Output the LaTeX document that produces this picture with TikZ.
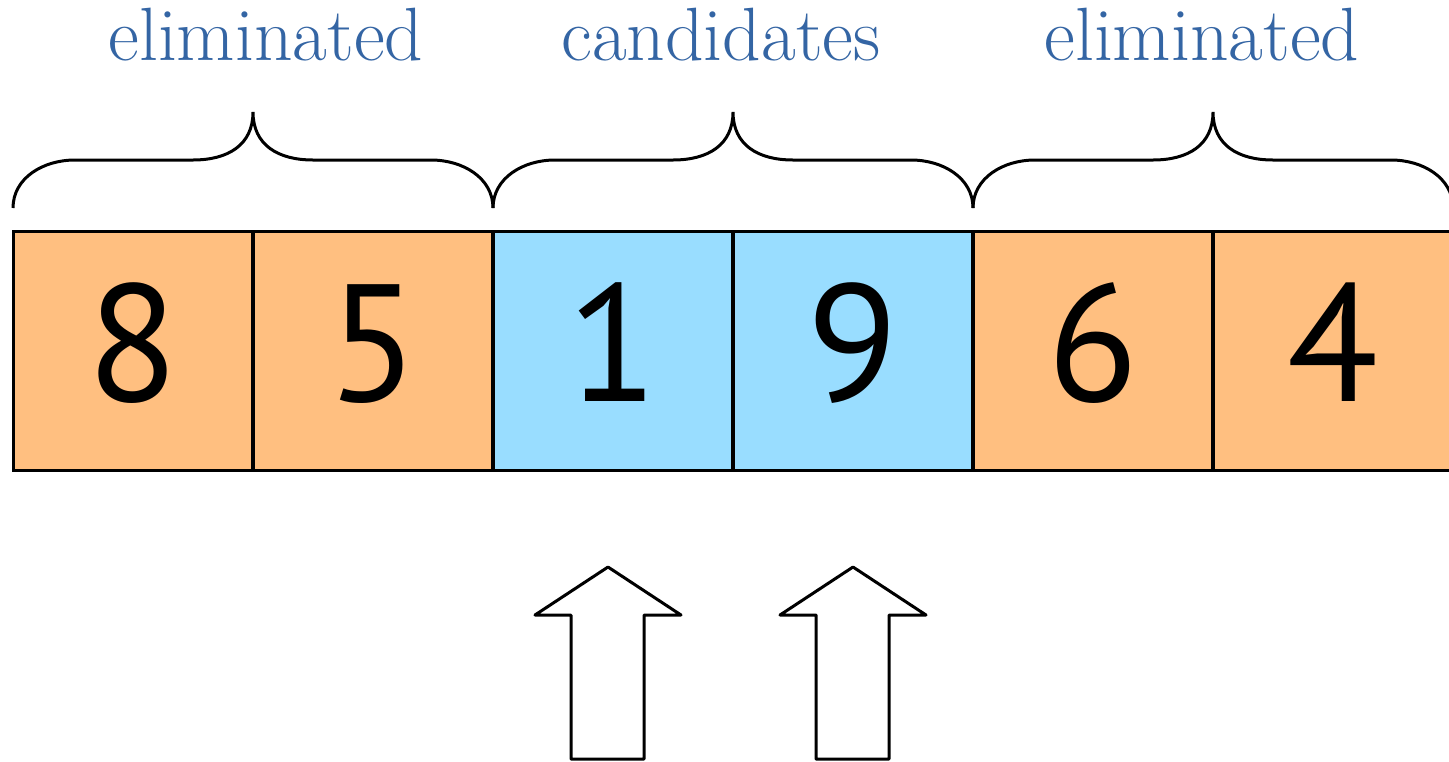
\documentclass[tikz,border=0pt]{standalone}
\usepackage{fontspec}
\newfontfamily\digitfont{PT Sans}
\definecolor{elimfill}{RGB}{255,191,128}
\definecolor{candfill}{RGB}{153,221,255}
\definecolor{labelblue}{RGB}{52,101,164}
\begin{document}
\begin{tikzpicture}[x=0.02cm,y=-0.02cm,
  cell/.style={draw=black,line width=0.06cm,minimum width=4.8cm,minimum height=4.8cm,inner sep=0pt,
    text height=2.04cm,text depth=0cm,
    font=\digitfont\fontsize{95}{95}\selectfont},
  elim/.style={cell,fill=elimfill},
  cand/.style={cell,fill=candfill},
  lbl/.style={text=labelblue,font=\fontsize{43}{43}\selectfont,inner sep=0pt,anchor=base},
  bracepath/.style={draw=black,line width=0.06cm},
  bigarrow/.style={draw=black,line width=0.06cm,line join=round}]
\useasboundingbox (0,0) rectangle (1449,761);
% cells
\node[elim] (c1) at (133,351) {8};
\node[elim] (c2) at (373,351) {5};
\node[cand] (c3) at (613,351) {1};
\node[cand] (c4) at (853,351) {9};
\node[elim] (c5) at (1093,351) {6};
\node[elim] (c6) at (1333,351) {4};
% braces
\foreach \a in {13,493,973}{
  \draw[bracepath] (\a,208) .. controls (\a,178) and (\a+30,160) .. (\a+62,160)
     -- (\a+180,160) .. controls (\a+215,160) and (\a+240,145) .. (\a+240,112)
     .. controls (\a+240,145) and (\a+265,160) .. (\a+300,160)
     -- (\a+418,160) .. controls (\a+450,160) and (\a+480,178) .. (\a+480,208);
}
% labels
\node[lbl] (l1) at (266,60) {eliminated};
\node[lbl] (l2) at (721,60) {candidates};
\node[lbl] (l3) at (1202,60) {eliminated};
% arrows
\draw[bigarrow] (608,567) -- (681,615) -- (644,615) -- (644,759) -- (571,759) -- (571,615) -- (535,615) -- cycle;
\draw[bigarrow] (853,567) -- (926,615) -- (889,615) -- (889,759) -- (816,759) -- (816,615) -- (780,615) -- cycle;
\end{tikzpicture}
\end{document}
